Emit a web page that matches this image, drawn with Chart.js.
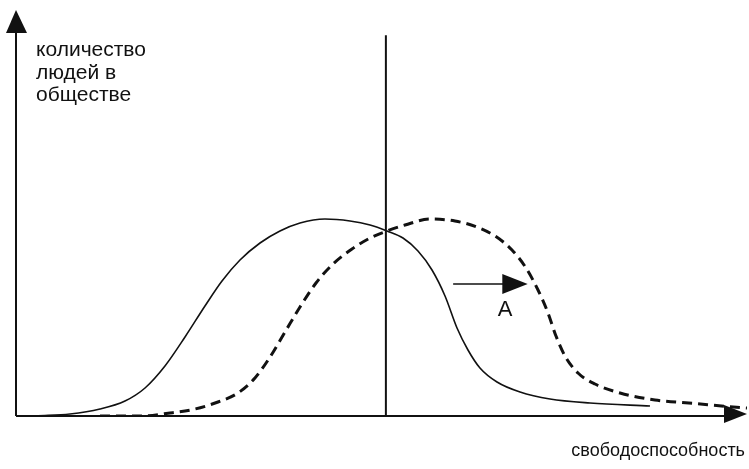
<!DOCTYPE html>
<html>
<head>
<meta charset="utf-8">
<script src="https://cdn.jsdelivr.net/npm/chart.js@4.4.1/dist/chart.umd.min.js"></script>
<style>
  html, body { margin: 0; padding: 0; background: #fff; }
  #wrap { width: 749px; height: 469px; position: relative; }
</style>
</head>
<body>
<div id="wrap"><canvas id="chart" width="749" height="469"></canvas></div>
<script>
// solid curve: current distribution
const solidX = [0.55, 3.97, 7.39, 11.49, 14.91, 17.65, 20.38, 23.12, 25.85, 28.18, 30.64, 33.38, 36.11, 38.85, 42.27, 45.69, 48.43, 50.75, 52.94, 54.99, 56.91, 58.69, 60.33, 61.83, 63.47, 65.80, 68.95, 73.05, 78.52, 86.73];
const solidY = [0, 0.12, 0.49, 1.72, 3.69, 6.90, 12.32, 19.46, 27.09, 33.25, 38.42, 42.61, 45.57, 47.54, 48.52, 48.03, 47.04, 45.57, 43.84, 40.64, 35.96, 29.56, 21.67, 16.26, 11.82, 8.37, 5.91, 4.19, 3.20, 2.46];

// dashed curve: shifted distribution
const dashX = [11.49, 16.96, 21.07, 24.49, 27.63, 30.37, 32.69, 34.75, 36.80, 38.85, 41.04, 43.37, 45.96, 48.43, 50.75, 53.22, 56.63, 60.05, 63.06, 65.53, 67.85, 69.77, 71.41, 72.78, 73.87, 75.10, 76.88, 79.21, 82.63, 87.41, 92.89, 97.26, 100];
const dashY = [0, 0, 0.74, 1.72, 3.45, 5.67, 9.36, 14.53, 20.69, 26.85, 32.76, 37.44, 41.13, 43.84, 45.57, 47.04, 48.52, 48.03, 46.55, 44.33, 40.89, 36.45, 31.03, 25.37, 19.70, 14.78, 10.59, 7.88, 5.67, 3.94, 3.08, 2.34, 1.97];

// vertical divider and shift arrow "A"
const dividerX = [50.6, 50.6];
const dividerY = [0, 93.8];
const shiftX = [59.8, 66.8];
const shiftY = [32.5, 32.5];
const shiftTip = 70.0;

const yLabel = ['количество', 'людей в', 'обществе'];
const xLabel = 'свободоспособность';
const shiftLabel = 'A';

const toPoints = (xs, ys) => xs.map((x, i) => ({ x: x, y: ys[i] }));

const ink = '#111';

const sketchPlugin = {
    id: 'sketch',
    afterDatasetsDraw(chart) {
        const ctx = chart.ctx;
        const sx = chart.scales.x;
        const sy = chart.scales.y;
        const x0 = sx.getPixelForValue(0);
        const y0 = sy.getPixelForValue(0);

        ctx.save();
        ctx.strokeStyle = ink;
        ctx.fillStyle = ink;

        // y axis with arrow
        ctx.lineWidth = 2;
        ctx.beginPath();
        ctx.moveTo(x0, y0);
        ctx.lineTo(x0, 30);
        ctx.stroke();
        ctx.beginPath();
        ctx.moveTo(x0, 10);
        ctx.lineTo(x0 - 10, 33);
        ctx.lineTo(x0 + 11, 33);
        ctx.closePath();
        ctx.fill();

        // x axis with arrow
        ctx.beginPath();
        ctx.moveTo(x0, y0);
        ctx.lineTo(726, y0);
        ctx.stroke();
        ctx.beginPath();
        ctx.moveTo(747, y0 - 2);
        ctx.lineTo(724, y0 - 11);
        ctx.lineTo(724, y0 + 7);
        ctx.closePath();
        ctx.fill();

        // arrowhead for A
        const ax = sx.getPixelForValue(shiftX[1]);
        const tx = sx.getPixelForValue(shiftTip);
        const ay = sy.getPixelForValue(shiftY[0]);
        ctx.beginPath();
        ctx.moveTo(tx, ay);
        ctx.lineTo(ax - 2, ay - 10);
        ctx.lineTo(ax - 2, ay + 10);
        ctx.closePath();
        ctx.fill();

        // texts
        ctx.font = '21px "Liberation Sans", Arial, sans-serif';
        ctx.textBaseline = 'alphabetic';
        ctx.textAlign = 'left';
        yLabel.forEach((line, i) => ctx.fillText(line, 36, 56 + i * 22.5));

        ctx.textAlign = 'right';
        ctx.font = '18px "Liberation Sans", Arial, sans-serif';
        ctx.fillText(xLabel, 745, 456);

        ctx.textAlign = 'center';
        ctx.font = '22px "Liberation Sans", Arial, sans-serif';
        ctx.fillText(shiftLabel, 505, 316);
        ctx.restore();
    }
};

new Chart(document.getElementById('chart'), {
    type: 'scatter',
    data: {
        datasets: [
            {
                data: toPoints(solidX, solidY),
                showLine: true,
                borderColor: ink,
                borderWidth: 1.6,
                pointRadius: 0,
                cubicInterpolationMode: 'monotone'
            },
            {
                data: toPoints(dashX, dashY),
                showLine: true,
                borderColor: ink,
                borderWidth: 3,
                borderDash: [10, 6],
                pointRadius: 0,
                cubicInterpolationMode: 'monotone'
            },
            {
                data: toPoints(dividerX, dividerY),
                showLine: true,
                borderColor: ink,
                borderWidth: 2,
                pointRadius: 0
            },
            {
                data: toPoints(shiftX, shiftY),
                showLine: true,
                borderColor: ink,
                borderWidth: 1.5,
                pointRadius: 0
            }
        ]
    },
    options: {
        responsive: false,
        animation: false,
        layout: { padding: { left: 16, right: 2, top: 10, bottom: 53 } },
        scales: {
            x: { type: 'linear', min: 0, max: 100, display: false },
            y: { type: 'linear', min: 0, max: 100, display: false }
        },
        plugins: {
            legend: { display: false },
            tooltip: { enabled: false }
        }
    },
    plugins: [sketchPlugin]
});
</script>
</body>
</html>
